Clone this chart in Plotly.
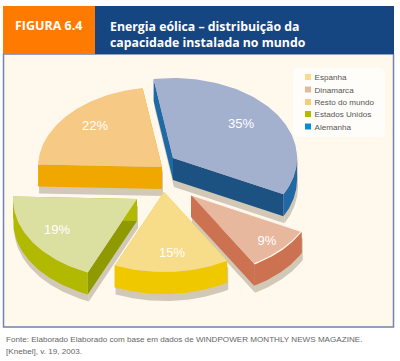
import numpy as np
import plotly.graph_objects as go

# ---- data ----
categories = ["Alemanha", "Dinamarca", "Espanha", "Estados Unidos", "Resto do mundo"]
shares = [35, 9, 15, 19, 22]
legend_order = ["Espanha", "Dinamarca", "Resto do mundo", "Estados Unidos", "Alemanha"]
top_colors = ["#a3b1cf", "#e8b89e", "#f7dc8a", "#dbdf9f", "#f6c985"]
arc_colors = ["#2168a5", "#cc7250", "#f0c800", "#b1b900", "#f0a800"]
wall_start_colors = ["#1f6aa5", "#b56444", None, "#8f9a00", "#f0a800"]
wall_end_colors = ["#1c5282", None, None, None, None]
legend_colors = {"Espanha": "#f7dc8a", "Dinamarca": "#e8b89e", "Resto do mundo": "#f6c985",
                 "Estados Unidos": "#b1b900", "Alemanha": "#0a8bd5"}
title_tag = "FIGURA 6.4"
title_lines = ["Energia eólica – distribuição da", "capacidade instalada no mundo"]
source_lines = ["Fonte: Elaborado Elaborado com base em dados de WINDPOWER MONTHLY NEWS MAGAZINE.",
                "[Knebel], v. 19, 2003."]

# ---- layout of the exploded, tilted pie (pixel-like axis units) ----
apexes = [(173, 158), (191, 195), (164, 192), (137, 199), (162, 167)]
RX, RY, DEPTH = 124, 80, 22
START = -9.0
SHADOW = (1, 7)
SHADOW_COLOR = "#d2c8b8"
PANEL = "#fff8ed"
label_pos = [(241, 125), (267, 241.5), (172, 254), (57, 231), (95, 127)]


def ell(ang):
    a = np.radians(ang)
    return RX * np.sin(a), -RY * np.cos(a)


def polys(apex, t0, t1, wall0, wall1, arcc, topc):
    """Return painter-ordered polygons for one slice."""
    ax, ay = apex
    out = []
    ts = np.linspace(t0, t1, 80)
    ex, ey = ell(ts)
    ex, ey = ex + ax, ey + ay
    for tt, col in ((t0, wall0), (t1, wall1)):
        px, py = ell(tt)
        x = [ax, ax + px, ax + px, ax]
        y = [ay, ay + py, ay + py + DEPTH, ay + DEPTH]
        out.append((x, y, col or arcc))
    lo, hi = max(t0, 90), min(t1, 270)
    if hi > lo:
        tv = np.linspace(lo, hi, 60)
        vx, vy = ell(tv)
        vx, vy = vx + ax, vy + ay
        out.append((list(vx) + list(vx[::-1]), list(vy) + list((vy + DEPTH)[::-1]), arcc))
    out.append(([ax] + list(ex), [ay] + list(ey), topc))
    return out


fig = go.Figure()


def add_poly(x, y, col, name, edge=None):
    fig.add_trace(go.Scatter(x=x, y=y, mode="lines", fill="toself", fillcolor=col,
                             line=dict(width=1.2 if edge else 0, color=edge or col), hoverinfo="skip",
                             showlegend=False, name=name))


total = sum(shares)
angles = [START]
for s in shares:
    angles.append(angles[-1] + 360 * s / total)

slices = []
for i, c in enumerate(categories):
    slices.append(polys(apexes[i], angles[i], angles[i + 1], wall_start_colors[i],
                        wall_end_colors[i], arc_colors[i], top_colors[i]))

# shadows first
for i, c in enumerate(categories):
    for x, y, _ in slices[i]:
        add_poly([v + SHADOW[0] for v in x], [v + SHADOW[1] for v in y], SHADOW_COLOR, c + " sombra")

# Dinamarca keeps a light rim where it meets the shadow of Alemanha
for i in [4, 0, 3, 1, 2]:
    n = len(slices[i])
    for k, (x, y, col) in enumerate(slices[i]):
        rim = PANEL if (i == 1 and k == n - 1) else None
        add_poly(x, y, col, categories[i], rim)

# percentage labels
fig.add_trace(go.Scatter(x=[p[0] for p in label_pos], y=[p[1] for p in label_pos], mode="text",
                         text=[f"{s}%" for s in shares], textposition="middle center",
                         textfont=dict(family="Liberation Sans", size=13, color="white"),
                         hoverinfo="skip", showlegend=False))

# legend
leg_y = [77, 89.5, 102, 114, 126.5]
fig.add_trace(go.Scatter(x=[308] * 5, y=leg_y, mode="markers",
                         marker=dict(symbol="square", size=6, color=[legend_colors[k] for k in legend_order]),
                         hoverinfo="skip", showlegend=False))
fig.add_trace(go.Scatter(x=[314.5] * 5, y=[v + 1.2 for v in leg_y], mode="text", text=legend_order,
                         textposition="middle right",
                         textfont=dict(family="Liberation Sans", size=8.1, color="#555555"),
                         hoverinfo="skip", showlegend=False))

rect = lambda x0, y0, x1, y1, fill, lw=0, lc=None, layer="below": dict(
    type="rect", xref="x", yref="y", x0=x0, y0=y0, x1=x1, y1=y1, fillcolor=fill,
    line=dict(width=lw, color=lc or fill), layer=layer)

shapes = [
    rect(3.5, 54, 393.5, 327, PANEL, 1.5, "#6f84ae"),
    rect(3, 6, 95, 54, "#ff7a00"),
    rect(95, 6, 394, 54, "#164682"),
    dict(type="path", xref="x", yref="y", layer="below", fillcolor="#fffdf9", line=dict(width=0),
         path="M 299 68 L 379 68 Q 385 68 385 74 L 385 131 Q 385 137 379 137 L 299 137 "
              "Q 293 137 293 131 L 293 74 Q 293 68 299 68 Z"),
]


def note(x, y, text, size, color, family="Open Sans", bold=False):
    return dict(x=x, y=y, xref="x", yref="y", text=f"<b>{text}</b>" if bold else text, showarrow=False,
                xanchor="left", yanchor="middle",
                font=dict(family=family, size=size, color=color))


annotations = [
    note(12.5, 25, title_tag, 12.5, "white", bold=True),
    note(107.5, 26, title_lines[0], 12.3, "white", bold=True),
    note(107.5, 42, title_lines[1], 12.3, "white", bold=True),
    note(3.5, 339, source_lines[0], 8.1, "#666666", family="Liberation Sans"),
    note(3.5, 351, source_lines[1], 8.1, "#666666", family="Liberation Sans"),
]

fig.update_layout(
    width=400, height=361, margin=dict(l=0, r=0, t=0, b=0),
    paper_bgcolor="white", plot_bgcolor="white", showlegend=False,
    xaxis=dict(range=[0, 400], visible=False, fixedrange=True),
    yaxis=dict(range=[361, 0], visible=False, fixedrange=True),
    shapes=shapes, annotations=annotations,
)
fig.write_html("out.html", config={"displayModeBar": False},
               post_script="document.body.style.margin='0';document.body.style.overflow='hidden';")
